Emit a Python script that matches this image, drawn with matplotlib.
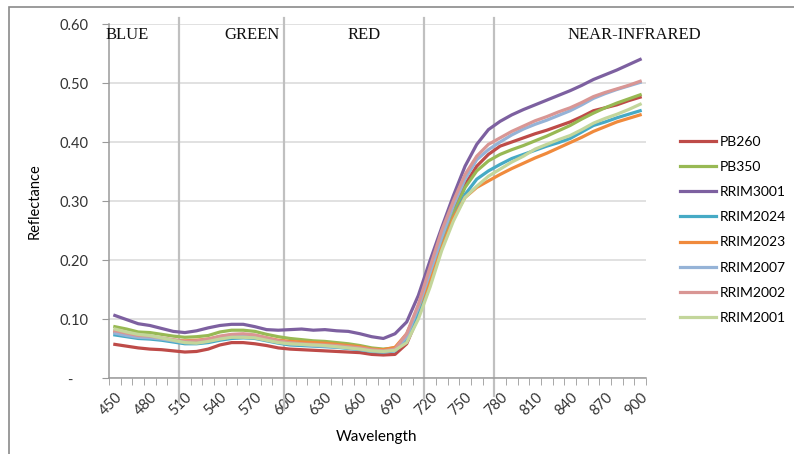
import numpy as np
import matplotlib
matplotlib.use('Agg')
from matplotlib import pyplot as plt
from matplotlib.patches import Rectangle

# wavelength categories (nm)
wavelength = list(range(450, 901, 10))

pb260 = [0.057, 0.054, 0.051, 0.049, 0.048, 0.046, 0.044, 0.045, 0.049, 0.056,
         0.060, 0.060, 0.058, 0.055, 0.051, 0.049, 0.048, 0.047, 0.046, 0.045,
         0.044, 0.043, 0.040, 0.039, 0.040, 0.058, 0.105, 0.165, 0.227, 0.283,
         0.328, 0.359, 0.379, 0.393, 0.400, 0.407, 0.414, 0.420, 0.427, 0.434,
         0.443, 0.453, 0.458, 0.463, 0.470, 0.476]
pb350 = [0.087, 0.083, 0.078, 0.077, 0.074, 0.071, 0.069, 0.070, 0.072, 0.078,
         0.081, 0.081, 0.079, 0.074, 0.070, 0.067, 0.065, 0.063, 0.062, 0.060,
         0.058, 0.055, 0.051, 0.049, 0.051, 0.070, 0.115, 0.162, 0.224, 0.278,
         0.323, 0.351, 0.368, 0.379, 0.387, 0.394, 0.402, 0.410, 0.419, 0.428,
         0.439, 0.449, 0.458, 0.466, 0.473, 0.480]
rrim3001 = [0.106, 0.099, 0.092, 0.089, 0.084, 0.079, 0.077, 0.080, 0.085, 0.089,
            0.091, 0.091, 0.087, 0.082, 0.081, 0.082, 0.083, 0.081, 0.082, 0.080,
            0.079, 0.075, 0.070, 0.067, 0.075, 0.095, 0.140, 0.199, 0.255, 0.309,
            0.359, 0.396, 0.421, 0.435, 0.446, 0.455, 0.463, 0.471, 0.479, 0.487,
            0.496, 0.506, 0.514, 0.522, 0.531, 0.540]
rrim2024 = [0.073, 0.070, 0.067, 0.066, 0.064, 0.061, 0.058, 0.058, 0.060, 0.064,
            0.067, 0.068, 0.067, 0.063, 0.059, 0.056, 0.055, 0.054, 0.053, 0.052,
            0.050, 0.048, 0.045, 0.044, 0.046, 0.065, 0.110, 0.162, 0.221, 0.272,
            0.311, 0.337, 0.351, 0.362, 0.372, 0.379, 0.386, 0.393, 0.399, 0.406,
            0.417, 0.428, 0.434, 0.441, 0.447, 0.453]
rrim2023 = [0.078, 0.074, 0.071, 0.070, 0.067, 0.064, 0.063, 0.064, 0.066, 0.070,
            0.073, 0.073, 0.072, 0.068, 0.064, 0.062, 0.061, 0.060, 0.059, 0.057,
            0.055, 0.053, 0.049, 0.048, 0.052, 0.075, 0.120, 0.165, 0.221, 0.272,
            0.306, 0.323, 0.334, 0.345, 0.355, 0.364, 0.373, 0.381, 0.390, 0.399,
            0.408, 0.418, 0.426, 0.434, 0.440, 0.446]
rrim2007 = [0.076, 0.072, 0.069, 0.068, 0.066, 0.063, 0.060, 0.060, 0.063, 0.068,
            0.071, 0.071, 0.070, 0.066, 0.061, 0.058, 0.057, 0.055, 0.054, 0.053,
            0.051, 0.049, 0.046, 0.045, 0.047, 0.070, 0.120, 0.179, 0.238, 0.292,
            0.337, 0.370, 0.387, 0.400, 0.412, 0.422, 0.430, 0.437, 0.445, 0.453,
            0.463, 0.474, 0.482, 0.489, 0.495, 0.501]
rrim2002 = [0.080, 0.076, 0.072, 0.071, 0.068, 0.065, 0.062, 0.063, 0.066, 0.071,
            0.074, 0.075, 0.073, 0.068, 0.063, 0.060, 0.058, 0.057, 0.056, 0.055,
            0.053, 0.051, 0.048, 0.046, 0.049, 0.075, 0.125, 0.188, 0.250, 0.300,
            0.345, 0.376, 0.396, 0.407, 0.418, 0.427, 0.436, 0.443, 0.451, 0.458,
            0.467, 0.477, 0.484, 0.490, 0.496, 0.503]
rrim2001 = [0.083, 0.078, 0.074, 0.072, 0.068, 0.064, 0.060, 0.059, 0.062, 0.066,
            0.069, 0.069, 0.068, 0.064, 0.060, 0.058, 0.057, 0.056, 0.055, 0.053,
            0.051, 0.049, 0.046, 0.045, 0.047, 0.060, 0.100, 0.154, 0.216, 0.266,
            0.306, 0.325, 0.342, 0.354, 0.366, 0.376, 0.388, 0.396, 0.404, 0.411,
            0.421, 0.432, 0.440, 0.447, 0.455, 0.464]

series = [('PB260', pb260, '#BE4B48'),
          ('PB350', pb350, '#98B954'),
          ('RRIM3001', rrim3001, '#7D60A0'),
          ('RRIM2024', rrim2024, '#46AAC5'),
          ('RRIM2023', rrim2023, '#F08A3C'),
          ('RRIM2007', rrim2007, '#95B3D7'),
          ('RRIM2002', rrim2002, '#D99694'),
          ('RRIM2001', rrim2001, '#C3D69B')]

bands = ['BLUE', 'GREEN', 'RED', 'NEAR-INFRARED']
band_edges = [505, 595, 715, 775]

yticks = [0, 0.1, 0.2, 0.3, 0.4, 0.5, 0.6]
ylabels = ['-    ', '0.10', '0.20', '0.30', '0.40', '0.50', '0.60']

plt.rcParams['font.family'] = ['Lato', 'DejaVu Sans']

fig = plt.figure(figsize=(7.94, 4.54), dpi=100)
ax = fig.add_axes([0.1373, 0.1674, 0.6763, 0.7797])

for name, vals, col in series:
    ax.plot(wavelength, vals, color=col, lw=2.3, label=name, solid_joinstyle='round')

ax.set_xlim(445, 905)
ax.set_ylim(0, 0.6)

ax.set_yticks(yticks)
ax.set_yticklabels(ylabels, fontsize=10.5, color='#333333')
ax.set_xticks(wavelength[::3])
ax.set_xticklabels([str(w) for w in wavelength[::3]], rotation=45, ha='right',
                   rotation_mode='anchor', fontsize=10.5, color='#333333')
ax.set_xticks(np.arange(445, 906, 10), minor=True)
ax.tick_params(axis='x', which='major', length=0, pad=9)
ax.tick_params(axis='x', which='minor', length=5, color='#9a9a9a', direction='out')
ax.tick_params(axis='y', length=5, color='#9a9a9a', direction='out', pad=10)

ax.grid(axis='y', color='#d9d9d9', lw=1.1)
ax.set_axisbelow(True)
for s in ['top', 'right']:
    ax.spines[s].set_visible(False)
for s in ['left', 'bottom']:
    ax.spines[s].set_color('#9a9a9a')
    ax.spines[s].set_linewidth(1.1)

# band separators, drawn a bit past the plot area like in the original
lows = [-0.07, -0.09, -0.06, -0.05]
for x, lo in zip(band_edges, lows):
    ax.axvline(x, ymin=lo, ymax=1.017, color='#c0c0c0', lw=1.6, clip_on=False, zorder=1)

band_x = [-0.006, 0.266, 0.475, 0.978]
band_ha = ['left', 'center', 'center', 'center']
for b, bx, ha in zip(bands, band_x, band_ha):
    ax.text(bx, 0.969, b, transform=ax.transAxes, ha=ha, va='center',
            fontsize=12, family='Liberation Serif', color='#111111')

ax.set_ylabel('Reflectance', fontsize=10.5)
ax.yaxis.set_label_coords(-0.125, 0.5)
ax.set_xlabel('Wavelength', fontsize=11)
ax.xaxis.set_label_coords(0.499, -0.147)

leg = ax.legend(loc='upper left', bbox_to_anchor=(1.04, 0.72), frameon=False,
                fontsize=10, handlelength=2.6, handletextpad=0.25, labelspacing=0.95)

fig.patches.append(Rectangle((9 / 794, -0.1), 1.2, (454 - 7) / 454 + 0.1,
                             transform=fig.transFigure, fill=False,
                             edgecolor='#8a8a8a', lw=1.2))

fig.savefig('out.png', dpi=100)
